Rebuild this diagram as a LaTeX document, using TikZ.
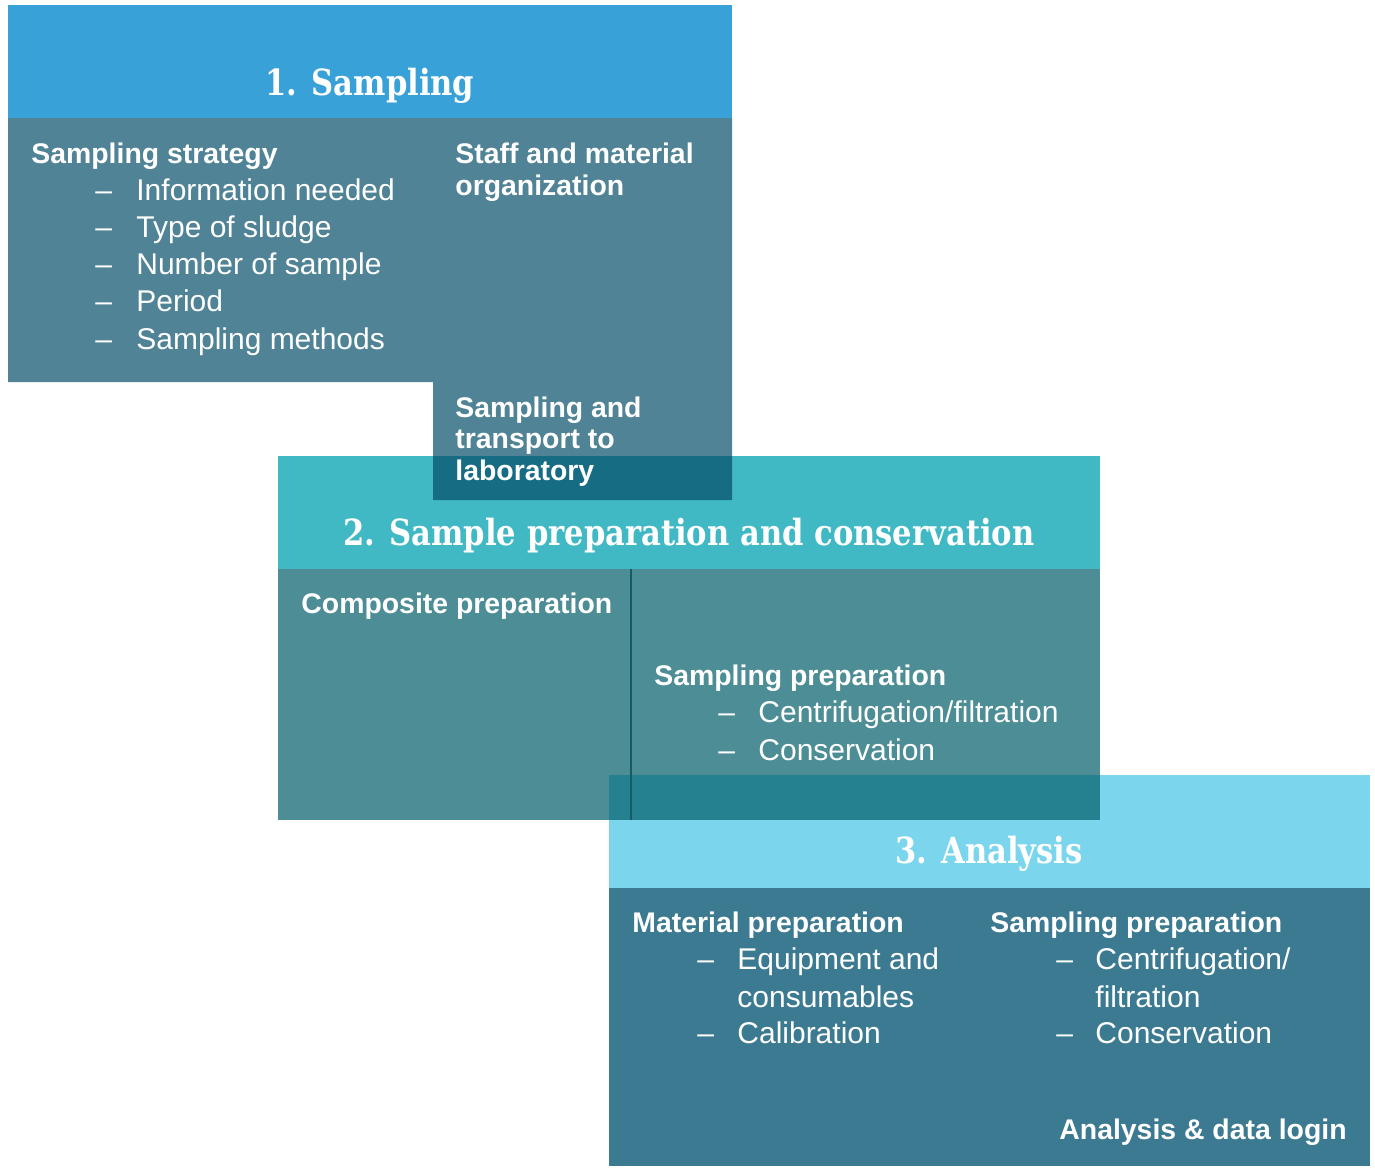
\documentclass[tikz,border=0pt]{standalone}
\usepackage{fontspec}
\setmainfont{Liberation Sans}
\newfontfamily\slabfont[FakeStretch=0.85]{DejaVu Serif}
\usetikzlibrary{positioning}
\definecolor{headone}{RGB}{56,161,216}
\definecolor{headtwo}{RGB}{65,185,197}
\definecolor{headthree}{RGB}{122,213,237}
\definecolor{bodyone}{RGB}{4,78,104}
\definecolor{bodytwo}{RGB}{2,93,104}
\definecolor{bodythree}{RGB}{60,122,146}
\definecolor{divline}{RGB}{22,92,102}
\tikzset{
  header/.style={font=\slabfont\bfseries\fontsize{18}{22}\selectfont, text=white, inner sep=0pt, anchor=base},
  topic/.style={font=\bfseries\fontsize{14.2}{16}\selectfont, text=white, inner sep=0pt, anchor=base west},
  item/.style={font=\fontsize{15}{18.5}\selectfont, text=white, inner sep=0pt, anchor=base west},
  dashmark/.style={item},
}

\begin{document}
\begin{tikzpicture}[x=0.5pt, y=-0.5pt]
    \useasboundingbox (0,0) rectangle (1375,1167);

    % 3. Analysis (lowest layer)
    \fill[headthree] (609,775) rectangle (1370,888);
    \fill[bodythree] (609,888) rectangle (1370,1166);

    % 2. Sample preparation, body see-through over the analysis header
    \fill[headtwo] (278,456) rectangle (1100,569);
    \fill[bodytwo, fill opacity=.7] (278,569) rectangle (1100,820);
    \draw[divline, line width=0.6pt] (631,569) -- (631,820);

    % 1. Sampling, body steps down into the header below
    \fill[headone] (8,5) rectangle (732,118);
    \fill[bodyone, fill opacity=.7] (8,118) -- (732,118) -- (732,500) -- (433,500)
        -- (433,382) -- (8,382) -- cycle;

    % headers
    \node[header] (samp) at (370,95) {1. Sampling};
    \node[header] (prep) at (689,545) {2. Sample preparation and conservation};
    \node[header] (anal) at (989,863) {3. Analysis};

    % sampling box
    \node[topic] (strategy) at (31,163) {Sampling strategy};
    \foreach \txt [count=\i] in {Information needed, Type of sludge, Number of sample, Period, Sampling methods} {
        \node[dashmark] (sd\i) at (95,{163+37.2*\i}) {--};
        \node[item] (si\i) at (136,{163+37.2*\i}) {\txt};
    }
    \node[topic] (staff) at (455,163) {Staff and material};
    \node[topic] (staffb) at (455,195) {organization};
    \node[topic] (trans) at (455,417) {Sampling and};
    \node[topic] (transb) at (455,448) {transport to};
    \node[topic] (transc) at (455,480) {laboratory};

    % preparation box
    \node[topic] (compo) at (301,613) {Composite preparation};
    \node[topic] (sprep) at (654,685) {Sampling preparation};
    \node[dashmark] (pd1) at (718,722) {--};
    \node[item] (pi1) at (758,722) {Centrifugation/filtration};
    \node[dashmark] (pd2) at (718,760) {--};
    \node[item] (pi2) at (758,760) {Conservation};

    % analysis box
    \node[topic] (mprep) at (632,932) {Material preparation};
    \node[dashmark] (ad1) at (697,969) {--};
    \node[item] (ai1) at (737,969) {Equipment and};
    \node[item] (ai1b) at (737,1007) {consumables};
    \node[dashmark] (ad2) at (697,1043) {--};
    \node[item] (ai2) at (737,1043) {Calibration};

    \node[topic] (aprep) at (990,932) {Sampling preparation};
    \node[dashmark] (bd1) at (1056,969) {--};
    \node[item] (bi1) at (1095,969) {Centrifugation/};
    \node[item] (bi1b) at (1095,1007) {filtration};
    \node[dashmark] (bd2) at (1056,1043) {--};
    \node[item] (bi2) at (1095,1043) {Conservation};

    \node[topic, anchor=base east] (login) at (1347,1139) {Analysis \& data login};
\end{tikzpicture}
\end{document}
